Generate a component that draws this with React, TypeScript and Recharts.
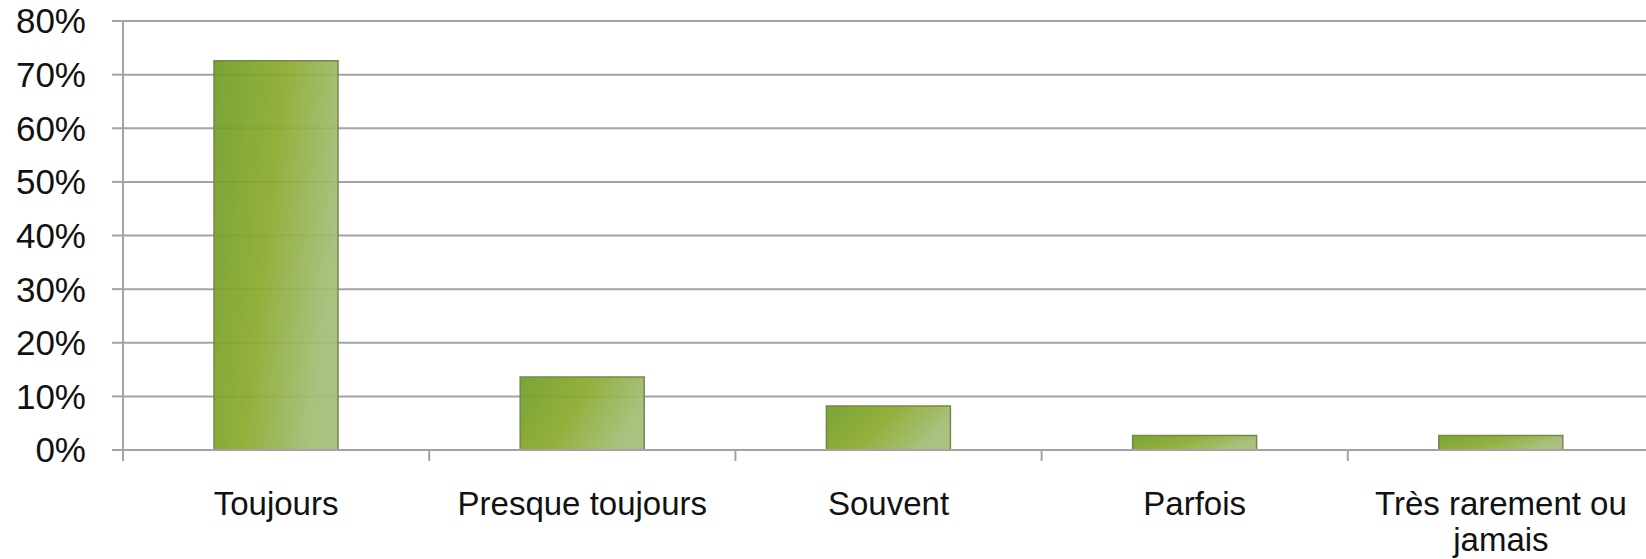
import { BarChart, Bar, XAxis, YAxis, CartesianGrid } from 'recharts'

const categories = ['Toujours', 'Presque toujours', 'Souvent', 'Parfois', 'Très rarement ou jamais']
const shares = [72.6, 13.6, 8.2, 2.7, 2.7]
const yTicks = [0, 10, 20, 30, 40, 50, 60, 70, 80]
// how each category label breaks under the axis
const tickLines: Record<string, string[]> = {
  'Très rarement ou jamais': ['Très rarement ou', 'jamais'],
}

const data = categories.map((name, i) => ({ name, share: shares[i] }))

const FONT = '"Liberation Sans", Arial, sans-serif'
const GRID = '#a3a3a3'

// label under each band, plus a small mark at the band's left edge
function CategoryTick(props: any) {
  const { x, y, payload, width, visibleTicksCount } = props
  const band = width / visibleTicksCount
  const left = x - band / 2
  const lines = tickLines[payload.value] ?? [payload.value]
  return (
    <g>
      <line x1={left} x2={left} y1={y} y2={y + 11} stroke={GRID} strokeWidth={2} />
      <text x={x} y={y + 65} textAnchor="middle" fontSize={33} fontFamily={FONT} fill="#111">
        {lines.map((l, i) => (
          <tspan key={i} x={x} dy={i === 0 ? 0 : 36}>{l}</tspan>
        ))}
      </text>
    </g>
  )
}

export default function App() {
  return (
    <div style={{ position: 'fixed', left: 0, top: 0, width: 1646, height: 559, overflow: 'hidden', background: '#fff' }}>
      <BarChart width={1654} height={559} data={data} margin={{ top: 21, right: 0, left: 0, bottom: 0 }}>
        <defs>
          <linearGradient id="barFill" x1="0" y1="0" x2="1" y2="0.35">
            <stop offset="0%" stopColor="#6e9c26" />
            <stop offset="50%" stopColor="#89a92a" />
            <stop offset="100%" stopColor="#a3bc74" />
          </linearGradient>
        </defs>
        <CartesianGrid vertical={false} stroke={GRID} strokeWidth={2} />
        <XAxis
          dataKey="name"
          tickLine={false}
          tickSize={0}
          tickMargin={0}
          axisLine={{ stroke: GRID, strokeWidth: 2 }}
          tick={<CategoryTick />}
          height={109}
          interval={0}
        />
        <YAxis
          domain={[0, 80]}
          ticks={yTicks}
          tickFormatter={v => `${v}%`}
          width={123}
          tickSize={11}
          tickMargin={26}
          tickLine={{ stroke: GRID, strokeWidth: 2 }}
          axisLine={{ stroke: GRID, strokeWidth: 2 }}
          tick={{ fontSize: 35, fontFamily: FONT, fill: '#111' }}
        />
        <Bar
          dataKey="share"
          barSize={124}
          fill="url(#barFill)"
          fillOpacity={0.92}
          stroke="#76864f"
          strokeWidth={1.5}
          isAnimationActive={false}
        />
      </BarChart>
    </div>
  )
}
